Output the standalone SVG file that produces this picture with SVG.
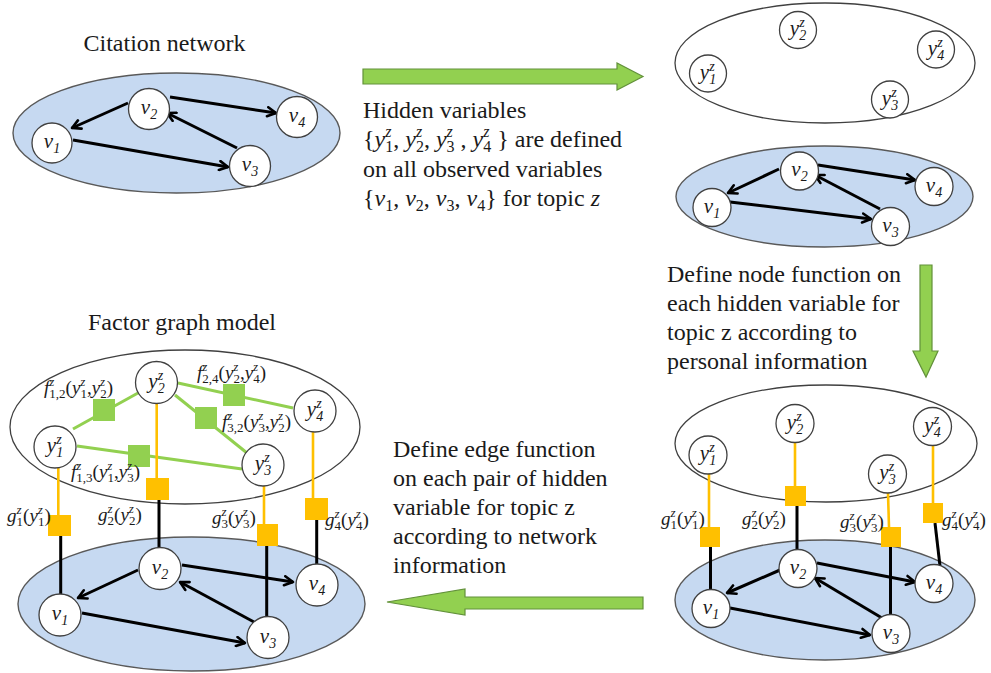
<svg xmlns="http://www.w3.org/2000/svg" width="991" height="673" viewBox="0 0 991 673">
<defs>
<style>
.t{font-family:"Liberation Serif","Times New Roman",serif;font-size:24px;fill:#1a1a1a}
.i{font-style:italic}
.u{font-size:16px;font-style:italic}
.d{font-size:16px}
.m{font-family:"Liberation Serif","Times New Roman",serif;font-style:italic;font-size:21px;fill:#1a1a1a}
.s{font-size:14px}
.fl{font-family:"Liberation Serif","Times New Roman",serif;font-size:19px;fill:#1a1a1a}
.fs{font-size:13px}
.blue{fill:#c6d9f1;stroke:#595959;stroke-width:1.4}
.plane{fill:#fff;stroke:#404040;stroke-width:1.3}
.nd{fill:#fff;stroke:#404040;stroke-width:1.3}
.edge{stroke:#000;stroke-width:3;fill:none;marker-end:url(#ah)}
.link{stroke:#000;stroke-width:3;fill:none}
.gl{stroke:#92d050;stroke-width:3;fill:none}
.ol{stroke:#ffc000;stroke-width:2.6;fill:none}
.gf{fill:#92d050}
.of{fill:#ffc000}
.big{fill:#92d050;stroke:#62913a;stroke-width:1.2}
</style>
<marker id="ah" viewBox="0 0 12 12" refX="10" refY="6" markerWidth="12" markerHeight="12" markerUnits="userSpaceOnUse" orient="auto">
<path d="M1.5,1.5 L10,6 L1.5,10.5" fill="none" stroke="#000" stroke-width="2.6" stroke-linecap="round" stroke-linejoin="round"/>
</marker>
</defs>
<rect width="991" height="673" fill="#fff"/>

<!-- planes -->
<g id="planes">
<ellipse class="blue" cx="176.5" cy="133" rx="163.5" ry="60"/>
<ellipse class="plane" cx="825" cy="63" rx="150" ry="60"/>
<ellipse class="blue" cx="824.5" cy="196.5" rx="148.5" ry="50.5"/>
<ellipse class="plane" cx="826" cy="443.5" rx="151" ry="58.5"/>
<ellipse class="blue" cx="825" cy="600" rx="150" ry="60"/>
<ellipse class="plane" cx="185" cy="427" rx="175" ry="77"/>
<ellipse class="blue" cx="191.5" cy="604" rx="173.5" ry="67"/>
</g>

<!-- step arrows -->
<g id="steps">
<polygon class="big" points="363,69 617,69 617,63 643,76.5 617,90 617,84 363,84"/>
<polygon class="big" points="920,265 932,265 932,351 938,351 926,377 913,351 920,351"/>
<polygon class="big" points="643,597 465,597 465,589 387,602 465,615 465,609 643,609"/>
</g>

<!-- captions -->
<g id="captions">
<text class="t" x="164.5" y="51" text-anchor="middle">Citation network</text>
<text class="t" x="182" y="330" text-anchor="middle">Factor graph model</text>
<text class="t" x="363" y="118">Hidden variables</text>
<text class="t" x="363" y="147">{<tspan class="i">y</tspan><tspan class="u" dy="-10">z</tspan><tspan class="d" dx="-6.2" dy="15">1</tspan><tspan dy="-5">, </tspan><tspan class="i">y</tspan><tspan class="u" dy="-10">z</tspan><tspan class="d" dx="-6.2" dy="15">2</tspan><tspan dy="-5">, </tspan><tspan class="i">y</tspan><tspan class="u" dy="-10">z</tspan><tspan class="d" dx="-6.2" dy="15">3</tspan><tspan dy="-5"> , </tspan><tspan class="i">y</tspan><tspan class="u" dy="-10">z</tspan><tspan class="d" dx="-6.2" dy="15">4</tspan><tspan dy="-5"> } are defined</tspan></text>
<text class="t" x="363" y="177">on all observed variables</text>
<text class="t" x="363" y="206">{<tspan class="i">v</tspan><tspan class="d" dy="5">1</tspan><tspan dy="-5">, </tspan><tspan class="i">v</tspan><tspan class="d" dy="5">2</tspan><tspan dy="-5">, </tspan><tspan class="i">v</tspan><tspan class="d" dy="5">3</tspan><tspan dy="-5">, </tspan><tspan class="i">v</tspan><tspan class="d" dy="5">4</tspan><tspan dy="-5">} for topic </tspan><tspan class="i">z</tspan></text>
<text class="t" x="667" y="282">Define node function on</text>
<text class="t" x="667" y="311">each hidden variable for</text>
<text class="t" x="667" y="340">topic z according to</text>
<text class="t" x="667" y="369">personal information</text>
<text class="t" x="393" y="457">Define edge function</text>
<text class="t" x="393" y="486">on each pair of hidden</text>
<text class="t" x="393" y="515">variable for topic z</text>
<text class="t" x="393" y="544">according to network</text>
<text class="t" x="393" y="573">information</text>
</g>

<!-- connectors -->
<g id="connectors">
<!-- citation network, top left -->
<line class="edge" x1="128" y1="103" x2="72" y2="128"/>
<line class="edge" x1="170" y1="97" x2="276" y2="113"/>
<line class="edge" x1="73" y1="140" x2="228" y2="167"/>
<line class="edge" x1="237" y1="148" x2="167" y2="113"/>
<!-- observed layer, top right -->
<line class="edge" x1="779" y1="169" x2="728" y2="193"/>
<line class="edge" x1="818" y1="165" x2="915" y2="180"/>
<line class="edge" x1="730" y1="202" x2="871" y2="219"/>
<line class="edge" x1="880" y1="209" x2="815" y2="175"/>
<!-- node functions, bottom right -->
<line class="ol" x1="709" y1="473" x2="709" y2="527"/>
<line class="link" x1="710.5" y1="547" x2="710.5" y2="590"/>
<line class="ol" x1="795" y1="442" x2="795" y2="486"/>
<line class="link" x1="797" y1="506" x2="797" y2="550"/>
<line class="ol" x1="888" y1="493" x2="889" y2="527"/>
<line class="link" x1="890.5" y1="547" x2="890.5" y2="615"/>
<line class="ol" x1="933" y1="445" x2="933" y2="503"/>
<line class="link" x1="935" y1="523" x2="940" y2="566"/>
<line class="edge" x1="780" y1="570" x2="727" y2="593"/>
<line class="edge" x1="817" y1="563" x2="915" y2="582"/>
<line class="edge" x1="730" y1="608" x2="870" y2="635"/>
<line class="edge" x1="882" y1="618" x2="815" y2="578"/>
<!-- factor graph, bottom left -->
<line class="gl" x1="73" y1="429" x2="138" y2="393"/>
<line class="gl" x1="178" y1="383" x2="293" y2="408"/>
<line class="gl" x1="175" y1="395" x2="247" y2="453"/>
<line class="gl" x1="77" y1="446" x2="242" y2="469"/>
<line class="ol" x1="58.3" y1="468" x2="58.3" y2="516"/>
<line class="link" x1="60.7" y1="535" x2="60.7" y2="594"/>
<line class="ol" x1="156.7" y1="404" x2="156.7" y2="478"/>
<line class="link" x1="159" y1="500" x2="159" y2="547"/>
<line class="ol" x1="264" y1="486" x2="264" y2="524"/>
<line class="link" x1="266.7" y1="546" x2="266.7" y2="617"/>
<line class="ol" x1="313" y1="432" x2="313" y2="498"/>
<line class="link" x1="316.7" y1="520" x2="316.7" y2="564"/>
<line class="edge" x1="138" y1="570" x2="78" y2="598"/>
<line class="edge" x1="182" y1="565" x2="293" y2="582"/>
<line class="edge" x1="82" y1="613" x2="245" y2="643"/>
<line class="edge" x1="254" y1="622" x2="180" y2="582"/>
</g>

<!-- factor nodes -->
<g id="br-g1"><rect class="of" x="700" y="527" width="20" height="20"/></g>
<g id="br-g2"><rect class="of" x="785" y="486" width="21" height="20"/></g>
<g id="br-g3"><rect class="of" x="881" y="527" width="20" height="20"/></g>
<g id="br-g4"><rect class="of" x="923" y="503" width="20" height="20"/></g>
<g id="bl-f12"><rect class="gf" x="93" y="399" width="22" height="22"/></g>
<g id="bl-f24"><rect class="gf" x="223" y="384" width="22" height="22"/></g>
<g id="bl-f32"><rect class="gf" x="195" y="407" width="22" height="22"/></g>
<g id="bl-f13"><rect class="gf" x="128" y="445" width="22" height="22"/></g>
<g id="bl-g1"><rect class="of" x="48" y="515" width="23" height="21"/></g>
<g id="bl-g2"><rect class="of" x="146" y="478" width="23" height="22"/></g>
<g id="bl-g3"><rect class="of" x="257" y="524" width="21" height="22"/></g>
<g id="bl-g4"><rect class="of" x="305" y="498" width="23" height="22"/></g>

<!-- factor labels -->
<g id="labels">
<text class="fl" x="661" y="525"><tspan class="i">g</tspan><tspan class="fs i" dy="-8">z</tspan><tspan class="fs" dx="-5" dy="12">1</tspan><tspan dy="-4">(</tspan><tspan class="i">y</tspan><tspan class="fs i" dy="-8">z</tspan><tspan class="fs" dx="-5" dy="12">1</tspan><tspan dy="-4">)</tspan></text>
<text class="fl" x="742" y="525"><tspan class="i">g</tspan><tspan class="fs i" dy="-8">z</tspan><tspan class="fs" dx="-5" dy="12">2</tspan><tspan dy="-4">(</tspan><tspan class="i">y</tspan><tspan class="fs i" dy="-8">z</tspan><tspan class="fs" dx="-5" dy="12">2</tspan><tspan dy="-4">)</tspan></text>
<text class="fl" x="840" y="528"><tspan class="i">g</tspan><tspan class="fs i" dy="-8">z</tspan><tspan class="fs" dx="-5" dy="12">3</tspan><tspan dy="-4">(</tspan><tspan class="i">y</tspan><tspan class="fs i" dy="-8">z</tspan><tspan class="fs" dx="-5" dy="12">3</tspan><tspan dy="-4">)</tspan></text>
<text class="fl" x="942" y="526"><tspan class="i">g</tspan><tspan class="fs i" dy="-8">z</tspan><tspan class="fs" dx="-5" dy="12">4</tspan><tspan dy="-4">(</tspan><tspan class="i">y</tspan><tspan class="fs i" dy="-8">z</tspan><tspan class="fs" dx="-5" dy="12">4</tspan><tspan dy="-4">)</tspan></text>
<text class="fl" x="7" y="522"><tspan class="i">g</tspan><tspan class="fs i" dy="-8">z</tspan><tspan class="fs" dx="-5" dy="12">1</tspan><tspan dy="-4">(</tspan><tspan class="i">y</tspan><tspan class="fs i" dy="-8">z</tspan><tspan class="fs" dx="-5" dy="12">1</tspan><tspan dy="-4">)</tspan></text>
<text class="fl" x="98" y="521"><tspan class="i">g</tspan><tspan class="fs i" dy="-8">z</tspan><tspan class="fs" dx="-5" dy="12">2</tspan><tspan dy="-4">(</tspan><tspan class="i">y</tspan><tspan class="fs i" dy="-8">z</tspan><tspan class="fs" dx="-5" dy="12">2</tspan><tspan dy="-4">)</tspan></text>
<text class="fl" x="212" y="524"><tspan class="i">g</tspan><tspan class="fs i" dy="-8">z</tspan><tspan class="fs" dx="-5" dy="12">3</tspan><tspan dy="-4">(</tspan><tspan class="i">y</tspan><tspan class="fs i" dy="-8">z</tspan><tspan class="fs" dx="-5" dy="12">3</tspan><tspan dy="-4">)</tspan></text>
<text class="fl" x="325" y="526"><tspan class="i">g</tspan><tspan class="fs i" dy="-8">z</tspan><tspan class="fs" dx="-5" dy="12">4</tspan><tspan dy="-4">(</tspan><tspan class="i">y</tspan><tspan class="fs i" dy="-8">z</tspan><tspan class="fs" dx="-5" dy="12">4</tspan><tspan dy="-4">)</tspan></text>
<text class="fl" x="44" y="394"><tspan class="i">f</tspan><tspan class="fs i" dy="-8">z</tspan><tspan class="fs" dx="-5" dy="12">1,2</tspan><tspan dy="-4">(</tspan><tspan class="i">y</tspan><tspan class="fs i" dy="-8">z</tspan><tspan class="fs" dx="-5" dy="12">1</tspan><tspan dy="-4">,</tspan><tspan class="i">y</tspan><tspan class="fs i" dy="-8">z</tspan><tspan class="fs" dx="-5" dy="12">2</tspan><tspan dy="-4">)</tspan></text>
<text class="fl" x="197" y="379"><tspan class="i">f</tspan><tspan class="fs i" dy="-8">z</tspan><tspan class="fs" dx="-5" dy="12">2,4</tspan><tspan dy="-4">(</tspan><tspan class="i">y</tspan><tspan class="fs i" dy="-8">z</tspan><tspan class="fs" dx="-5" dy="12">2</tspan><tspan dy="-4">,</tspan><tspan class="i">y</tspan><tspan class="fs i" dy="-8">z</tspan><tspan class="fs" dx="-5" dy="12">4</tspan><tspan dy="-4">)</tspan></text>
<text class="fl" x="222" y="428"><tspan class="i">f</tspan><tspan class="fs i" dy="-8">z</tspan><tspan class="fs" dx="-5" dy="12">3,2</tspan><tspan dy="-4">(</tspan><tspan class="i">y</tspan><tspan class="fs i" dy="-8">z</tspan><tspan class="fs" dx="-5" dy="12">3</tspan><tspan dy="-4">,</tspan><tspan class="i">y</tspan><tspan class="fs i" dy="-8">z</tspan><tspan class="fs" dx="-5" dy="12">2</tspan><tspan dy="-4">)</tspan></text>
<text class="fl" x="71" y="478"><tspan class="i">f</tspan><tspan class="fs i" dy="-8">z</tspan><tspan class="fs" dx="-5" dy="12">1,3</tspan><tspan dy="-4">(</tspan><tspan class="i">y</tspan><tspan class="fs i" dy="-8">z</tspan><tspan class="fs" dx="-5" dy="12">1</tspan><tspan dy="-4">,</tspan><tspan class="i">y</tspan><tspan class="fs i" dy="-8">z</tspan><tspan class="fs" dx="-5" dy="12">3</tspan><tspan dy="-4">)</tspan></text>
</g>

<!-- variable nodes: top left -->
<g id="tl-v1"><circle class="nd" cx="52" cy="143" r="20"/><text class="m" x="52" y="148" text-anchor="middle">v<tspan class="s" dy="5">1</tspan></text></g>
<g id="tl-v2"><circle class="nd" cx="149" cy="109" r="20.5"/><text class="m" x="149" y="114" text-anchor="middle">v<tspan class="s" dy="5">2</tspan></text></g>
<g id="tl-v3"><circle class="nd" cx="250" cy="166" r="20.5"/><text class="m" x="250" y="171" text-anchor="middle">v<tspan class="s" dy="5">3</tspan></text></g>
<g id="tl-v4"><circle class="nd" cx="297" cy="117" r="20.5"/><text class="m" x="297" y="122" text-anchor="middle">v<tspan class="s" dy="5">4</tspan></text></g>

<!-- top right -->
<g id="tr-y1"><circle class="nd" cx="708" cy="73.5" r="18.5"/><text class="m" x="708" y="78.5" text-anchor="middle">y<tspan class="s" dy="-8">z</tspan><tspan class="s" dx="-5.4" dy="13">1</tspan></text></g>
<g id="tr-y2"><circle class="nd" cx="798" cy="30" r="18.5"/><text class="m" x="798" y="35" text-anchor="middle">y<tspan class="s" dy="-8">z</tspan><tspan class="s" dx="-5.4" dy="13">2</tspan></text></g>
<g id="tr-y3"><circle class="nd" cx="890" cy="99.5" r="18.5"/><text class="m" x="890" y="104.5" text-anchor="middle">y<tspan class="s" dy="-8">z</tspan><tspan class="s" dx="-5.4" dy="13">3</tspan></text></g>
<g id="tr-y4"><circle class="nd" cx="936" cy="49.5" r="18.5"/><text class="m" x="936" y="54.5" text-anchor="middle">y<tspan class="s" dy="-8">z</tspan><tspan class="s" dx="-5.4" dy="13">4</tspan></text></g>
<g id="tr-v1"><circle class="nd" cx="712" cy="207.5" r="19"/><text class="m" x="712" y="212.5" text-anchor="middle">v<tspan class="s" dy="5">1</tspan></text></g>
<g id="tr-v2"><circle class="nd" cx="799.5" cy="171" r="19"/><text class="m" x="799.5" y="176" text-anchor="middle">v<tspan class="s" dy="5">2</tspan></text></g>
<g id="tr-v3"><circle class="nd" cx="890.5" cy="226.5" r="19"/><text class="m" x="890.5" y="231.5" text-anchor="middle">v<tspan class="s" dy="5">3</tspan></text></g>
<g id="tr-v4"><circle class="nd" cx="934" cy="186.5" r="19"/><text class="m" x="934" y="191.5" text-anchor="middle">v<tspan class="s" dy="5">4</tspan></text></g>

<!-- bottom right -->
<g id="br-y1"><circle class="nd" cx="708" cy="455" r="19"/><text class="m" x="708" y="460" text-anchor="middle">y<tspan class="s" dy="-8">z</tspan><tspan class="s" dx="-5.4" dy="13">1</tspan></text></g>
<g id="br-y2"><circle class="nd" cx="795" cy="423.5" r="19"/><text class="m" x="795" y="428.5" text-anchor="middle">y<tspan class="s" dy="-8">z</tspan><tspan class="s" dx="-5.4" dy="13">2</tspan></text></g>
<g id="br-y3"><circle class="nd" cx="887.5" cy="474" r="19"/><text class="m" x="887.5" y="479" text-anchor="middle">y<tspan class="s" dy="-8">z</tspan><tspan class="s" dx="-5.4" dy="13">3</tspan></text></g>
<g id="br-y4"><circle class="nd" cx="932.5" cy="426.5" r="19"/><text class="m" x="932.5" y="431.5" text-anchor="middle">y<tspan class="s" dy="-8">z</tspan><tspan class="s" dx="-5.4" dy="13">4</tspan></text></g>
<g id="br-v1"><circle class="nd" cx="711" cy="608.5" r="19"/><text class="m" x="711" y="613.5" text-anchor="middle">v<tspan class="s" dy="5">1</tspan></text></g>
<g id="br-v2"><circle class="nd" cx="798" cy="568.5" r="19"/><text class="m" x="798" y="573.5" text-anchor="middle">v<tspan class="s" dy="5">2</tspan></text></g>
<g id="br-v3"><circle class="nd" cx="891" cy="633.5" r="19"/><text class="m" x="891" y="638.5" text-anchor="middle">v<tspan class="s" dy="5">3</tspan></text></g>
<g id="br-v4"><circle class="nd" cx="934" cy="583.5" r="19"/><text class="m" x="934" y="588.5" text-anchor="middle">v<tspan class="s" dy="5">4</tspan></text></g>

<!-- bottom left -->
<g id="bl-y1"><circle class="nd" cx="55" cy="447" r="21"/><text class="m" x="55" y="452" text-anchor="middle">y<tspan class="s" dy="-8">z</tspan><tspan class="s" dx="-5.4" dy="13">1</tspan></text></g>
<g id="bl-y2"><circle class="nd" cx="156.5" cy="382.5" r="21"/><text class="m" x="156.5" y="387.5" text-anchor="middle">y<tspan class="s" dy="-8">z</tspan><tspan class="s" dx="-5.4" dy="13">2</tspan></text></g>
<g id="bl-y3"><circle class="nd" cx="263" cy="465" r="21"/><text class="m" x="263" y="470" text-anchor="middle">y<tspan class="s" dy="-8">z</tspan><tspan class="s" dx="-5.4" dy="13">3</tspan></text></g>
<g id="bl-y4"><circle class="nd" cx="315" cy="411" r="21"/><text class="m" x="315" y="416" text-anchor="middle">y<tspan class="s" dy="-8">z</tspan><tspan class="s" dx="-5.4" dy="13">4</tspan></text></g>
<g id="bl-v1"><circle class="nd" cx="60" cy="615" r="21"/><text class="m" x="60" y="620" text-anchor="middle">v<tspan class="s" dy="5">1</tspan></text></g>
<g id="bl-v2"><circle class="nd" cx="160" cy="568.5" r="21"/><text class="m" x="160" y="573.5" text-anchor="middle">v<tspan class="s" dy="5">2</tspan></text></g>
<g id="bl-v3"><circle class="nd" cx="268" cy="637.5" r="21"/><text class="m" x="268" y="642.5" text-anchor="middle">v<tspan class="s" dy="5">3</tspan></text></g>
<g id="bl-v4"><circle class="nd" cx="317" cy="585" r="21"/><text class="m" x="317" y="590" text-anchor="middle">v<tspan class="s" dy="5">4</tspan></text></g>
</svg>
